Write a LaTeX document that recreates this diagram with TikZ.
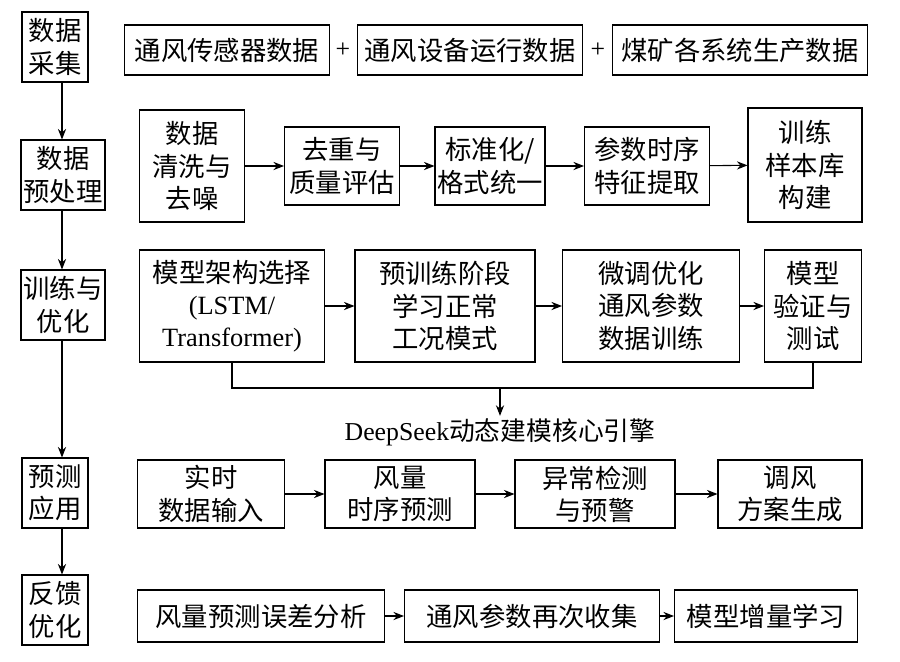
\documentclass[tikz,border=0pt]{standalone}
\usepackage{fontspec}
\setmainfont{Liberation Serif}
\newfontfamily\cjk{Noto Sans CJK SC}
\usetikzlibrary{positioning,arrows.meta}

\tikzset{
  box/.style={draw, line width=0.9pt, align=center, inner sep=1pt,
    font=\cjk\fontsize{22.5}{27.5}\selectfont},
  arr/.style={-{Stealth[length=9pt,width=7pt]}, line width=0.9pt},
  ln/.style={line width=0.9pt}
}

\begin{document}
\begin{tikzpicture}[x=0.03cm, y=-0.03cm]
  \useasboundingbox (0,0) rectangle (900,661);
  % stages
  \node[box, minimum width=66*0.03cm, minimum height=70*0.03cm] (c1) at (55,47) {数据\\采集};
  \node[box, minimum width=84*0.03cm, minimum height=70*0.03cm] (c2) at (63,175) {数据\\预处理};
  \node[box, minimum width=84*0.03cm, minimum height=70*0.03cm] (c3) at (63,305) {训练与\\优化};
  \node[box, minimum width=66*0.03cm, minimum height=70*0.03cm] (c4) at (55,493) {预测\\应用};
  \node[box, minimum width=66*0.03cm, minimum height=70*0.03cm] (c5) at (55,610) {反馈\\优化};
  \draw[arr] (c1.south -| 62,0) -- (c2.north -| 62,0);
  \draw[arr] (c2.south -| 62,0) -- (c3.north -| 62,0);
  \draw[arr] (c3.south -| 62,0) -- (c4.north -| 62,0);
  \draw[arr] (c4.south -| 62,0) -- (c5.north -| 62,0);
  % collection
  \node[box, minimum width=205*0.03cm, minimum height=50*0.03cm] (a1) at (227,50) {通风传感器数据};
  \node[font=\fontsize{22}{26}\selectfont] (p1) at (343,50) {+};
  \node[box, minimum width=225*0.03cm, minimum height=50*0.03cm] (a2) at (470,50) {通风设备运行数据};
  \node[font=\fontsize{22}{26}\selectfont] (p2) at (598,50) {+};
  \node[box, minimum width=255*0.03cm, minimum height=50*0.03cm] (a3) at (740,50) {煤矿各系统生产数据};
  % preprocessing
  \node[box, minimum width=105*0.03cm, minimum height=112*0.03cm] (b1) at (192,166) {数据\\清洗与\\去噪};
  \node[box, minimum width=115*0.03cm, minimum height=78*0.03cm] (b2) at (342,166) {去重与\\质量评估};
  \node[box, minimum width=110*0.03cm, minimum height=78*0.03cm] (b3) at (490,166) {标准化/\\格式统一};
  \node[box, minimum width=125*0.03cm, minimum height=78*0.03cm] (b4) at (647,166) {参数时序\\特征提取};
  \node[box, minimum width=114*0.03cm, minimum height=114*0.03cm] (b5) at (805,165) {训练\\样本库\\构建};
  \foreach \i/\j in {b1/b2,b2/b3,b3/b4,b4/b5} \draw[arr] (\i) -- (\j);
  % training
  \node[box, minimum width=185*0.03cm, minimum height=112*0.03cm] (m1) at (232,306) {模型架构选择\\{\rmfamily(LSTM/}\\{\rmfamily Transformer)}};
  \node[box, minimum width=180*0.03cm, minimum height=112*0.03cm] (m2) at (445,306) {预训练阶段\\学习正常\\工况模式};
  \node[box, minimum width=177*0.03cm, minimum height=112*0.03cm] (m3) at (651,306) {微调优化\\通风参数\\数据训练};
  \node[box, minimum width=97*0.03cm, minimum height=112*0.03cm] (m4) at (813,306) {模型\\验证与\\测试};
  \foreach \i/\j in {m1/m2,m2/m3,m3/m4} \draw[arr] (\i) -- (\j);
  \coordinate (jn) at (500,388);
  \node[font=\fontsize{22}{26}\selectfont, inner sep=2pt] (eng) at (500,432) {DeepSeek{\cjk 动态建模核心引擎}};
  \draw[ln] (m1.south) |- (jn) -| (m4.south);
  \draw[arr] (jn) -- (eng);
  % application
  \node[box, minimum width=147*0.03cm, minimum height=68*0.03cm] (d1) at (211,494) {实时\\数据输入};
  \node[box, minimum width=150*0.03cm, minimum height=68*0.03cm] (d2) at (400,494) {风量\\时序预测};
  \node[box, minimum width=160*0.03cm, minimum height=68*0.03cm] (d3) at (595,494) {异常检测\\与预警};
  \node[box, minimum width=144*0.03cm, minimum height=68*0.03cm] (d4) at (790,494) {调风\\方案生成};
  \foreach \i/\j in {d1/d2,d2/d3,d3/d4} \draw[arr] (\i) -- (\j);
  % feedback
  \node[box, minimum width=247*0.03cm, minimum height=52*0.03cm] (f1) at (261,616) {风量预测误差分析};
  \node[box, minimum width=255*0.03cm, minimum height=52*0.03cm] (f2) at (532,616) {通风参数再次收集};
  \node[box, minimum width=183*0.03cm, minimum height=52*0.03cm] (f3) at (766,616) {模型增量学习};
  \draw[arr] (f1) -- (f2);
  \draw[arr] (f2) -- (f3);
\end{tikzpicture}
\end{document}
